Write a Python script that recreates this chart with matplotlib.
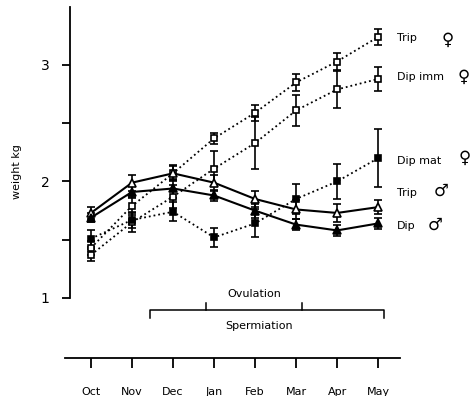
import matplotlib
matplotlib.use("Agg")
import matplotlib.pyplot as plt

months = ["Oct", "Nov", "Dec", "Jan", "Feb", "Mar", "Apr", "May"]
x = list(range(len(months)))

trip_f = [1.43, 1.79, 2.07, 2.37, 2.59, 2.85, 3.03, 3.24]
trip_f_err = [0.06, 0.08, 0.07, 0.05, 0.07, 0.07, 0.07, 0.07]
dip_imm = [1.37, 1.65, 1.87, 2.11, 2.33, 2.61, 2.79, 2.88]
dip_imm_err = [0.05, 0.08, 0.10, 0.15, 0.22, 0.13, 0.16, 0.10]
dip_mat = [1.51, 1.67, 1.74, 1.52, 1.64, 1.85, 2.00, 2.20]
dip_mat_err = [0.07, 0.07, 0.08, 0.08, 0.12, 0.13, 0.15, 0.25]
trip_m = [1.73, 1.99, 2.07, 1.99, 1.85, 1.76, 1.73, 1.78]
trip_m_err = [0.05, 0.07, 0.06, 0.07, 0.07, 0.08, 0.08, 0.06]
dip_m = [1.69, 1.91, 1.94, 1.88, 1.75, 1.63, 1.58, 1.64]
dip_m_err = [0.04, 0.05, 0.08, 0.05, 0.06, 0.05, 0.05, 0.05]

# (name, sex symbol, values, errors, marker, filled, linestyle)
series = [
    ("Trip", "\u2640", trip_f, trip_f_err, "s", False, ":"),
    ("Dip imm", "\u2640", dip_imm, dip_imm_err, "s", False, ":"),
    ("Dip mat", "\u2640", dip_mat, dip_mat_err, "s", True, ":"),
    ("Trip", "\u2642", trip_m, trip_m_err, "^", False, "-"),
    ("Dip", "\u2642", dip_m, dip_m_err, "^", True, "-"),
]

fig = plt.figure(figsize=(4.7, 3.96), dpi=100)
ax = fig.add_axes([60 / 470, 21 / 396, 380 / 470, 370 / 396])
ax.set_xlim(-0.756, 8.51)
ax.set_ylim(0.339, 3.515)

for name, sym, vals, errs, mk, filled, ls in series:
    lw = 1.5 if ls == "-" else 1.3
    ax.errorbar(x, vals, yerr=errs, color="black", ls=ls, lw=lw,
                marker=mk, ms=5.5 if mk == "^" else 5,
                mfc="black" if filled else "white", mec="black", mew=1.2,
                ecolor="black", elinewidth=1.2, capsize=3, capthick=1.2)

# right-hand labels
lab_y = [3.23, 2.9, 2.18, 1.9, 1.62]
for (name, sym, *_), yy in zip(series, lab_y):
    ax.text(7.45, yy, name, fontsize=8, va="center", ha="left")
ax.text(8.7, 3.22, "\u2640", fontsize=12, va="center", ha="center")
ax.text(9.08, 2.9, "\u2640", fontsize=12, va="center", ha="center")
ax.text(9.1, 2.2, "\u2640", fontsize=12, va="center", ha="center")
ax.text(8.55, 1.92, "\u2642", fontsize=12, va="center", ha="center")
ax.text(8.38, 1.63, "\u2642", fontsize=12, va="center", ha="center")

# axes styling
for s in ["top", "right"]:
    ax.spines[s].set_visible(False)
ax.spines["left"].set_position(("data", -0.51))
ax.spines["left"].set_bounds(1, 3.5)
ax.spines["bottom"].set_position(("data", 0.485))
ax.spines["bottom"].set_bounds(-0.63, 7.54)
for s in ["left", "bottom"]:
    ax.spines[s].set_linewidth(1.3)

ax.set_yticks([1, 2, 3])
ax.set_yticks([1.5, 2.5], minor=True)
ax.set_yticklabels(["1", "2", "3"], fontsize=10)
ax.tick_params(axis="y", which="both", direction="out", length=6, width=1.3, pad=9)
ax.set_xticks(x)
ax.set_xticklabels(months, fontsize=8)
ax.tick_params(axis="x", direction="out", length=7, width=1.3, pad=14)
ax.set_ylabel("weight kg", fontsize=8)
ax.yaxis.set_label_coords(-0.1, 0.55)

# ovulation / spermiation bracket
ax.plot([1.44, 1.44, 7.15, 7.15], [0.828, 0.897, 0.897, 0.828], color="black", lw=1.1, clip_on=False)
ax.plot([2.8, 2.8], [0.897, 0.957], color="black", lw=1.1, clip_on=False)
ax.plot([5.15, 5.15], [0.897, 0.957], color="black", lw=1.1, clip_on=False)
ax.text(3.98, 1.035, "Ovulation", fontsize=8, ha="center", va="center")
ax.text(4.1, 0.76, "Spermiation", fontsize=8, ha="center", va="center")

fig.savefig("out.png", dpi=100)
